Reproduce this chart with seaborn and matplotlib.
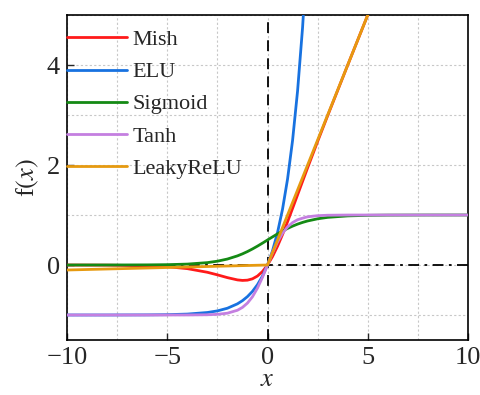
import numpy as np
import pandas as pd
import matplotlib
matplotlib.use("Agg")
import matplotlib.pyplot as plt
import seaborn as sns
from matplotlib.ticker import MultipleLocator

xs = [-10, -8, -6, -5, -4, -3, -2.5, -2, -1.5, -1.25, -1, -0.75, -0.5, -0.25, 0,
      0.25, 0.5, 0.75, 1, 1.25, 1.5, 1.75, 2, 2.5, 3, 4, 5, 6, 8, 10]
mish = [-0.0005, -0.0027, -0.0149, -0.0336, -0.0726, -0.1456, -0.1968, -0.2525, -0.2981,
        -0.3085, -0.3034, -0.2765, -0.2207, -0.1299, 0.0,
        0.1695, 0.3752, 0.6101, 0.8651, 1.1319, 1.4033, 1.6742, 1.9439, 2.4714, 2.9865,
        3.9974, 4.9996, 6.0, 8.0, 10.0]
elu_x = [-10, -8, -6, -5, -4, -3, -2.5, -2, -1.5, -1.25, -1, -0.75, -0.5, -0.25, 0,
         0.25, 0.5, 0.75, 1, 1.25, 1.5, 1.75, 2, 2.25]
elu = [-1.0, -0.9997, -0.9975, -0.9933, -0.9817, -0.9502, -0.9179, -0.8647, -0.7769,
       -0.7135, -0.6321, -0.5276, -0.3935, -0.2212, 0.0,
       0.2840, 0.6487, 1.1170, 1.7183, 2.4903, 3.4817, 4.7546, 6.3891, 8.4877]
sigmoid = [0.0000, 0.0003, 0.0025, 0.0067, 0.0180, 0.0474, 0.0759, 0.1192, 0.1824, 0.2227,
           0.2689, 0.3208, 0.3775, 0.4378, 0.5,
           0.5622, 0.6225, 0.6792, 0.7311, 0.7773, 0.8176, 0.8520, 0.8808, 0.9241, 0.9526,
           0.9820, 0.9933, 0.9975, 0.9997, 1.0]
tanh = [-1.0, -1.0, -1.0, -0.9999, -0.9993, -0.9951, -0.9866, -0.9640, -0.9052, -0.8483,
        -0.7616, -0.6352, -0.4621, -0.2449, 0.0,
        0.2449, 0.4621, 0.6352, 0.7616, 0.8483, 0.9052, 0.9366, 0.9640, 0.9866, 0.9951,
        0.9993, 0.9999, 1.0, 1.0, 1.0]
leaky_x = [-10, 0, 10]
leaky = [-0.1, 0.0, 10.0]

names = ["Mish", "ELU", "Sigmoid", "Tanh", "LeakyReLU"]
colors = ["#ff1a1a", "#1872e0", "#148a14", "#c47fe0", "#e69a10"]

frames = [
    pd.DataFrame({"x": xs, "y": mish, "fn": "Mish"}),
    pd.DataFrame({"x": elu_x, "y": elu, "fn": "ELU"}),
    pd.DataFrame({"x": xs, "y": sigmoid, "fn": "Sigmoid"}),
    pd.DataFrame({"x": xs, "y": tanh, "fn": "Tanh"}),
    pd.DataFrame({"x": leaky_x, "y": leaky, "fn": "LeakyReLU"}),
]
df = pd.concat(frames, ignore_index=True)

sns.set_style("ticks")
plt.rcParams["font.family"] = ["Liberation Serif", "DejaVu Serif"]
plt.rcParams["mathtext.fontset"] = "stix"

fig = plt.figure(figsize=(4.81, 3.95), dpi=100)
ax = fig.add_axes([67 / 481, 1 - 340 / 395, (468 - 67) / 481, (340 - 15) / 395])

ax.axvline(0, color="black", ls=(0, (6, 4)), lw=1.3, zorder=1)
ax.axhline(0, color="black", ls=(0, (6, 3, 1.5, 3)), lw=1.3, zorder=1)

sns.lineplot(data=df, x="x", y="y", hue="fn", hue_order=names,
             palette=dict(zip(names, colors)), lw=2.0, sort=False, ax=ax,
             estimator=None, zorder=3)

ax.set_xlim(-10, 10)
ax.set_ylim(-1.5, 5)
ax.xaxis.set_major_locator(MultipleLocator(5))
ax.xaxis.set_minor_locator(MultipleLocator(2.5))
ax.yaxis.set_major_locator(MultipleLocator(2))
ax.yaxis.set_minor_locator(MultipleLocator(1))
ax.grid(True, which="both", ls=(0, (2, 2)), color="#c8c8c8", lw=0.8)
ax.tick_params(which="major", direction="in", length=5, width=1, labelsize=19, pad=5)
ax.tick_params(which="minor", length=0)
for s in ax.spines.values():
    s.set_linewidth(1.2)
    s.set_color("black")

ax.set_xlabel("$x$", fontsize=19, labelpad=0)
ax.set_ylabel("f$(x)$", fontsize=19, labelpad=4)

handles, labels = ax.get_legend_handles_labels()
ax.legend(handles, labels, loc="upper left", frameon=False, fontsize=16,
          handlelength=2.7, handletextpad=0.25, labelspacing=0.52,
          borderaxespad=0.0, borderpad=0.0, bbox_to_anchor=(0.0, 0.955))

fig.savefig("out.png", dpi=100)
